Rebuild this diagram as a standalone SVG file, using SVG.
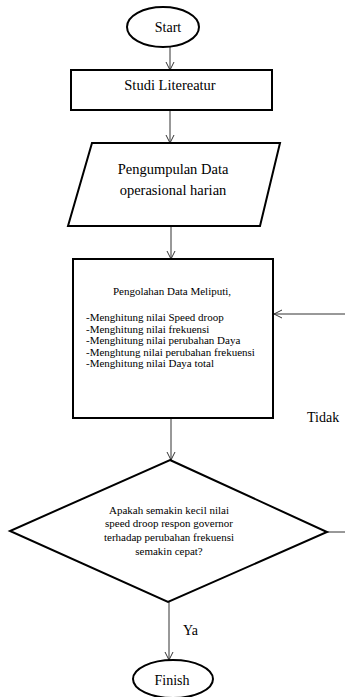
<svg xmlns="http://www.w3.org/2000/svg" width="345" height="697" viewBox="0 0 345 697">
<style>
.s{fill:#fff;stroke:#000;stroke-width:2}
.c{fill:none;stroke:#333;stroke-width:1}
text{font-family:'Liberation Serif','Times New Roman',serif;fill:#000}
.m{text-anchor:middle}
.l{font-size:14px}
.b{font-size:11px}
</style>
<defs>
<marker id="a" markerWidth="10" markerHeight="10" refX="9" refY="5" orient="auto" markerUnits="userSpaceOnUse">
<path d="M1,1 L9,5 L1,9" fill="none" stroke="#333" stroke-width="1"/>
</marker>
</defs>
<rect width="345" height="697" fill="#fff"/>
<g id="connectors">
<line class="c" x1="170" y1="47" x2="170" y2="70" marker-end="url(#a)"/>
<line class="c" x1="170" y1="110" x2="170" y2="143" marker-end="url(#a)"/>
<line class="c" x1="171" y1="226" x2="171" y2="259" marker-end="url(#a)"/>
<line class="c" x1="171" y1="418" x2="171" y2="460" marker-end="url(#a)"/>
<line class="c" x1="169" y1="602" x2="169" y2="660" marker-end="url(#a)"/>
<line class="c" x1="345" y1="314" x2="274" y2="314" marker-end="url(#a)"/>
<line class="c" x1="327" y1="532" x2="345" y2="532"/>
<text class="l" x="307" y="422">Tidak</text>
<text class="l" x="183" y="635">Ya</text>
</g>
<g id="start">
<ellipse class="s" cx="163" cy="27" rx="36" ry="20"/>
<text class="m l" x="168" y="32">Start</text>
</g>
<g id="studi">
<rect class="s" x="71" y="70" width="201" height="40"/>
<text class="m" x="170" y="90" font-size="14.5">Studi Litereatur</text>
</g>
<g id="pengumpulan">
<polygon class="s" points="92,143 280,143 260,226 68,226"/>
<text class="m" x="173" y="174" font-size="14.5">Pengumpulan Data</text>
<text class="m" x="173" y="195" font-size="14.5">operasional harian</text>
</g>
<g id="pengolahan">
<rect class="s" x="73" y="259" width="200" height="159"/>
<text class="m b" x="172" y="295">Pengolahan Data Meliputi,</text>
<text class="b" x="86" y="321">-Menghitung nilai Speed droop</text>
<text class="b" x="86" y="332.5">-Menghitung nilai frekuensi</text>
<text class="b" x="86" y="344">-Menghitung nilai perubahan Daya</text>
<text class="b" x="86" y="355.5">-Menghtung nilai perubahan frekuensi</text>
<text class="b" x="86" y="367">-Menghitung nilai Daya total</text>
</g>
<g id="keputusan">
<polygon class="s" points="170,460 327,532 168,602 10,531"/>
<text class="m b" x="169" y="513.5">Apakah semakin kecil nilai</text>
<text class="m b" x="169" y="527">speed droop respon governor</text>
<text class="m b" x="169" y="541">terhadap perubahan frekuensi</text>
<text class="m b" x="169" y="555">semakin cepat?</text>
</g>
<g id="finish">
<ellipse class="s" cx="173" cy="679" rx="40" ry="19"/>
<text class="m l" x="172" y="685">Finish</text>
</g>
</svg>
